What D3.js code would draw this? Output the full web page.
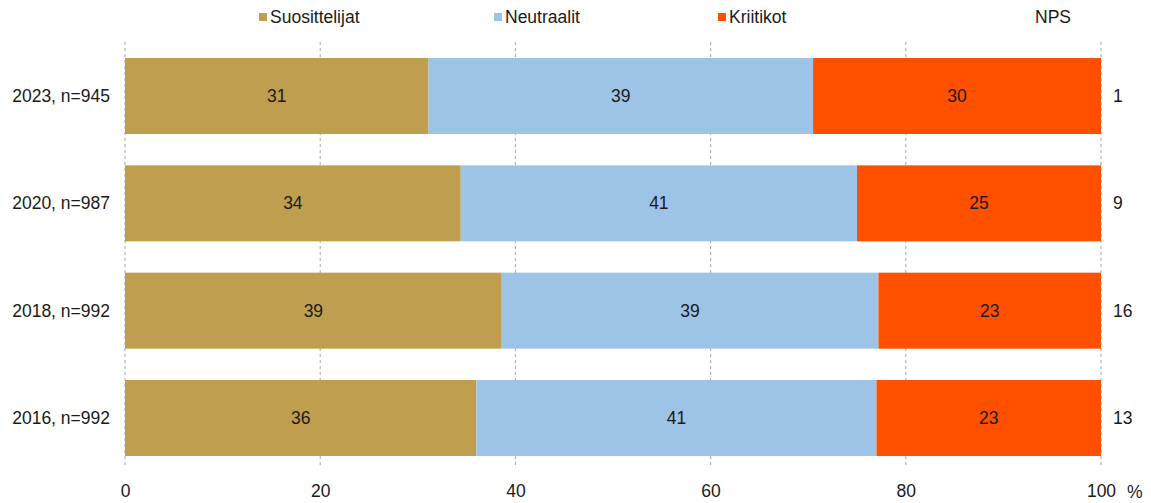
<!DOCTYPE html>
<html>
<head>
<meta charset="utf-8">
<script src="https://cdn.jsdelivr.net/npm/d3@7"></script>
<style>
  body { margin: 0; background: #fff; }
  text { font-family: "Liberation Sans", Arial, sans-serif; }
</style>
</head>
<body>
<div id="chart"></div>
<script>
const years = ["2023, n=945", "2020, n=987", "2018, n=992", "2016, n=992"];
const suosittelijat = [31.1, 34.4, 38.6, 36.0];
const neutraalit = [39.4, 40.6, 38.6, 41.0];
const kriitikot = [29.5, 25.0, 22.8, 23.0];
const labelsS = [31, 34, 39, 36];
const labelsN = [39, 41, 39, 41];
const labelsK = [30, 25, 23, 23];
const nps = [1, 9, 16, 13];
const seriesNames = ["Suosittelijat", "Neutraalit", "Kriitikot"];
const colors = ["#C09E50", "#9DC3E6", "#FF5000"];
const ticks = [0, 20, 40, 60, 80, 100];

const width = 1151, height = 503;
const fs = 17.5;

const svg = d3.select("#chart").append("svg")
  .attr("width", width)
  .attr("height", height);

const x = d3.scaleLinear().domain([0, 100]).range([125, 1101]);
const y = d3.scaleBand().domain(years).range([58, 456]).paddingInner(0.292).paddingOuter(0);

// dashed gridlines
svg.append("g").selectAll("line")
  .data(ticks)
  .enter().append("line")
  .attr("x1", d => x(d)).attr("x2", d => x(d))
  .attr("y1", 42).attr("y2", 468)
  .attr("stroke", "#a6a6a6")
  .attr("stroke-dasharray", "3,3")
  .attr("stroke-width", 1);

const rows = years.map((yr, i) => ({
  yr, vals: [suosittelijat[i], neutraalit[i], kriitikot[i]],
  labels: [labelsS[i], labelsN[i], labelsK[i]]
}));

rows.forEach((r, i) => {
  let start = 0;
  r.vals.forEach((v, j) => {
    svg.append("rect")
      .attr("x", x(start))
      .attr("y", y(r.yr))
      .attr("width", x(start + v) - x(start))
      .attr("height", y.bandwidth())
      .attr("fill", colors[j]);
    svg.append("text")
      .attr("x", x(start + v / 2))
      .attr("y", y(r.yr) + y.bandwidth() / 2)
      .attr("dy", "0.35em")
      .attr("text-anchor", "middle")
      .attr("font-size", fs)
      .attr("fill", "#1a1a1a")
      .text(r.labels[j]);
    start += v;
  });
  // category label
  svg.append("text")
    .attr("x", 110)
    .attr("y", y(r.yr) + y.bandwidth() / 2)
    .attr("dy", "0.35em")
    .attr("text-anchor", "end")
    .attr("font-size", fs)
    .attr("fill", "#1a1a1a")
    .text(r.yr);
  // NPS value
  svg.append("text")
    .attr("x", 1113)
    .attr("y", y(r.yr) + y.bandwidth() / 2)
    .attr("dy", "0.35em")
    .attr("font-size", fs)
    .attr("fill", "#1a1a1a")
    .text(nps[i]);
});

// x axis
const xAxis = d3.axisBottom(x).tickValues(ticks).tickSize(0).tickPadding(0);
const gx = svg.append("g")
  .attr("transform", "translate(0,485)")
  .call(xAxis);
gx.select(".domain").remove();
gx.selectAll("text")
  .attr("font-size", fs)
  .attr("font-family", "Liberation Sans, Arial, sans-serif")
  .attr("fill", "#1a1a1a");
svg.append("text")
  .attr("x", 1127).attr("y", 492)
  .attr("dy", "0.35em")
  .attr("font-size", fs)
  .attr("fill", "#1a1a1a")
  .text("%");

// legend
const legendX = [259, 494, 718];
seriesNames.forEach((name, j) => {
  svg.append("rect")
    .attr("x", legendX[j]).attr("y", 13)
    .attr("width", 8).attr("height", 8)
    .attr("fill", colors[j]);
  svg.append("text")
    .attr("x", legendX[j] + 11).attr("y", 17)
    .attr("dy", "0.35em")
    .attr("font-size", fs)
    .attr("fill", "#1a1a1a")
    .text(name);
});
svg.append("text")
  .attr("x", 1053).attr("y", 17)
  .attr("dy", "0.35em")
  .attr("text-anchor", "middle")
  .attr("font-size", fs)
  .attr("fill", "#1a1a1a")
  .text("NPS");
</script>
</body>
</html>
